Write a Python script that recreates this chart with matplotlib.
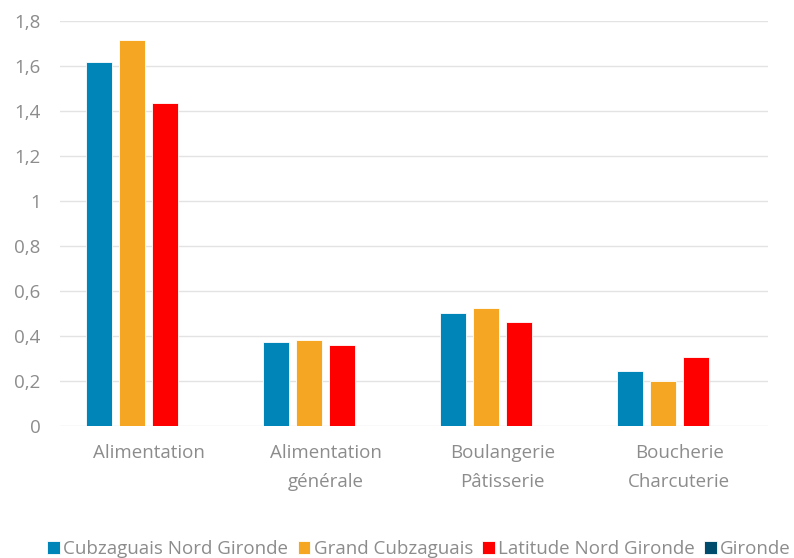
import numpy as np
import matplotlib.pyplot as plt
from matplotlib.ticker import FuncFormatter, MultipleLocator

categories = ["Alimentation", "Alimentation\ngénérale", "Boulangerie\nPâtisserie", "Boucherie\nCharcuterie"]
series = ["Cubzaguais Nord Gironde", "Grand Cubzaguais", "Latitude Nord Gironde", "Gironde"]
cubzaguais_nord = [1.618, 0.373, 0.504, 0.244]
grand_cubzaguais = [1.716, 0.381, 0.524, 0.201]
latitude_nord = [1.436, 0.359, 0.461, 0.308]
gironde = [np.nan, np.nan, np.nan, np.nan]
colors = ["#0085B8", "#F5A623", "#FF0000", "#004C6D"]

plt.rcParams["font.family"] = ["Open Sans", "DejaVu Sans"]
grey = "#8C8C8C"

fig = plt.figure(figsize=(7.94, 5.58), dpi=100)
ax = fig.add_axes([0.0756, 0.2366, 0.8914, 0.7258])

x = np.arange(len(categories))
slot = 0.1864
values = [cubzaguais_nord, grand_cubzaguais, latitude_nord, gironde]
for i, (name, vals, c) in enumerate(zip(series, values, colors)):
    ax.bar(x + (i - 1.5) * slot, vals, width=slot * 0.78, color=c, label=name,
           edgecolor="white", linewidth=0.6, zorder=3)

ax.set_xlim(-0.5, len(categories) - 0.5)
ax.set_ylim(0, 1.8)
ax.yaxis.set_major_locator(MultipleLocator(0.2))
ax.yaxis.set_major_formatter(FuncFormatter(lambda v, p: f"{v:.1f}".rstrip("0").rstrip(".").replace(".", ",") if v else "0"))
ax.grid(axis="y", color="#E3E3E3", linewidth=1, zorder=0)
for s in ["top", "right", "left", "bottom"]:
    ax.spines[s].set_visible(False)
ax.tick_params(length=0, colors=grey, labelsize=13.5)
ax.tick_params(axis="y", pad=14)
ax.tick_params(axis="x", pad=13)
ax.set_xticks(x)
ax.set_xticklabels(categories, linespacing=1.75, va="top")

fig.legend(loc="center", bbox_to_anchor=(0.528, 0.016), ncol=4, frameon=False,
           fontsize=13.5, labelcolor=grey, handlelength=0.65, handleheight=0.65,
           handletextpad=0.2, columnspacing=0.5, borderaxespad=0)

fig.savefig("out.png", dpi=100)
